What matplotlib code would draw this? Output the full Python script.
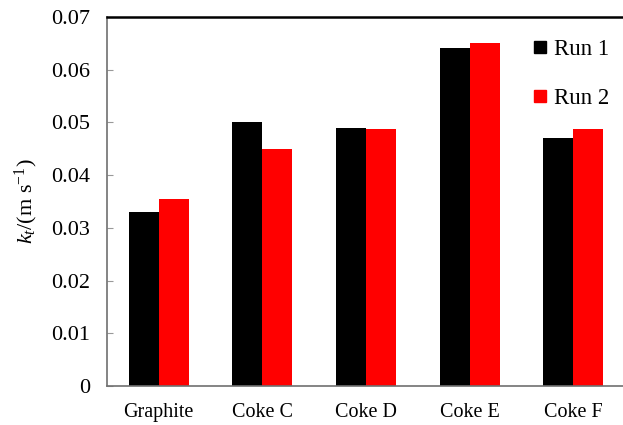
import numpy as np
import matplotlib
matplotlib.use("Agg")
import matplotlib.pyplot as plt
from matplotlib.lines import Line2D

plt.rcParams['font.family'] = ['Liberation Serif', 'DejaVu Serif']
plt.rcParams['mathtext.fontset'] = 'custom'
plt.rcParams['mathtext.rm'] = 'Liberation Serif'
plt.rcParams['mathtext.it'] = 'Liberation Serif:italic'

samples = ["Graphite", "Coke C", "Coke D", "Coke E", "Coke F"]
run1 = [0.0331, 0.0501, 0.0490, 0.0641, 0.0471]
run2 = [0.0355, 0.0450, 0.0488, 0.0650, 0.0488]
yticks = [0, 0.01, 0.02, 0.03, 0.04, 0.05, 0.06, 0.07]
ytick_labels = ["0", "0.01", "0.02", "0.03", "0.04", "0.05", "0.06", "0.07"]

fig = plt.figure(figsize=(6.23, 4.25), dpi=100)
ax = fig.add_axes([107/623, 1 - 386/425, 518/623, (386 - 17)/425])

x = np.arange(len(samples))
w = 0.29
ax.bar(x - w/2, run1, width=w, color="black", label="Run 1")
ax.bar(x + w/2, run2, width=w, color="#ff0000", label="Run 2")

ax.set_xlim(-0.5, len(samples) - 0.5)
ax.set_ylim(0, 0.07)
ax.set_yticks(yticks)
ax.set_yticklabels(ytick_labels, fontsize=16)
ax.set_xticks(x)
ax.set_xticklabels(samples, fontsize=14.5)
ax.tick_params(axis='y', direction='in', length=4, color='#999999', pad=12)
ax.tick_params(axis='x', length=0, pad=12)

for s in ("left", "bottom"):
    ax.spines[s].set_color("#707070")
    ax.spines[s].set_linewidth(1.2)
ax.spines["top"].set_color("black")
ax.spines["top"].set_linewidth(1.8)
ax.spines["right"].set_visible(False)

ax.set_ylabel(r"$k_t$/(m s$^{\mathrm{-1}}$)", fontsize=16, labelpad=8)

handles = [Line2D([], [], marker='s', linestyle='none', color='black', markersize=9),
           Line2D([], [], marker='s', linestyle='none', color='#ff0000', markersize=9)]
ax.legend(handles, ["Run 1", "Run 2"], loc="upper left",
          bbox_to_anchor=((533 - 107)/518, 1 - (39 - 17)/369),
          frameon=False, fontsize=16.5, handlelength=0.6, handletextpad=0.3,
          labelspacing=1.22, borderpad=0, borderaxespad=0)

fig.savefig("out.png", dpi=100)
